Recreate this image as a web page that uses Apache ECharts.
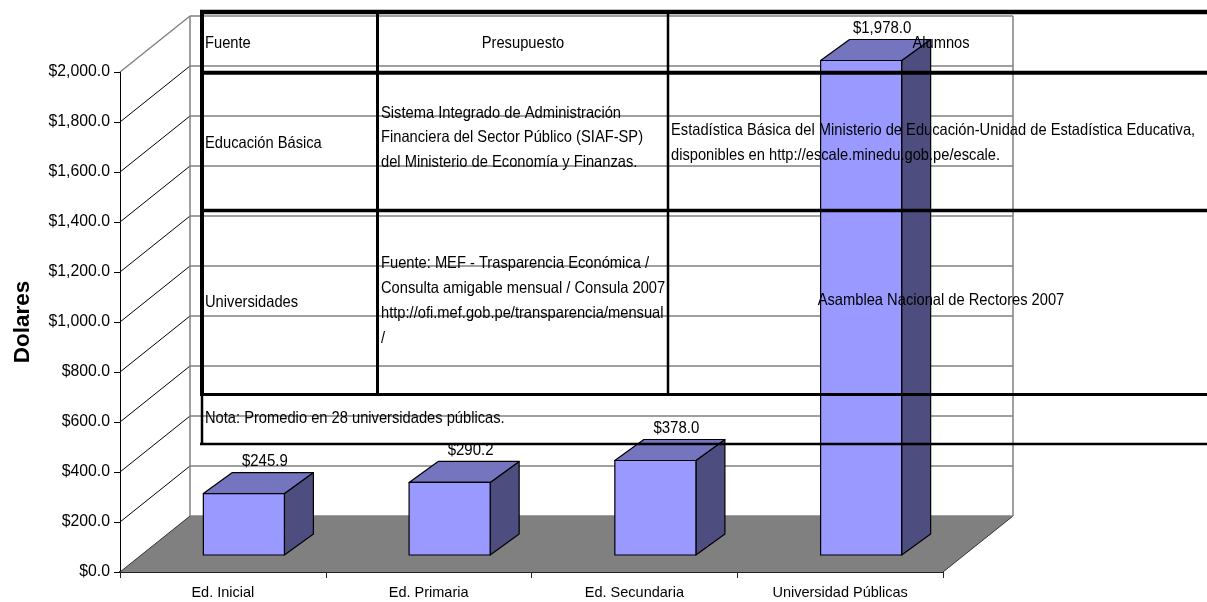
<!DOCTYPE html>
<html>
<head>
<meta charset="utf-8">
<script src="https://cdn.jsdelivr.net/npm/echarts@6/dist/echarts.min.js"></script>
<style>
html,body{margin:0;padding:0;background:#fff;}
#chart{width:1207px;height:602px;}
</style>
</head>
<body>
<div id="chart"></div>
<script>
// ---- data ----
const categories = ['Ed. Inicial', 'Ed. Primaria', 'Ed. Secundaria', 'Universidad Públicas'];
const values = [245.9, 290.2, 378.0, 1978.0];
const yTicks = [0, 200, 400, 600, 800, 1000, 1200, 1400, 1600, 1800, 2000];
const yAxisTitle = 'Dolares';

// table texts
const tableHeader = ['Fuente', 'Presupuesto', 'Alumnos'];
const rowBasica = ['Educación Básica',
  ['Sistema Integrado de Administración', 'Financiera del Sector Público (SIAF-SP)', 'del Ministerio de Economía y Finanzas.'],
  ['Estadística Básica del Ministerio de Educación-Unidad de Estadística Educativa,', 'disponibles en http://escale.minedu.gob.pe/escale.']];
const rowUniv = ['Universidades',
  ['Fuente: MEF - Trasparencia Económica /', 'Consulta amigable mensual / Consula 2007', 'http://ofi.mef.gob.pe/transparencia/mensual', '/'],
  'Asamblea Nacional de Rectores 2007'];
const nota = 'Nota: Promedio en 28 universidades públicas.';

function money(v) {
  const s = Number(v).toFixed(1);
  const parts = s.split('.');
  return '$' + parts[0].replace(/\B(?=(\d{3})+(?!\d))/g, ',') + '.' + parts[1];
}

const FONT = 'Liberation Sans, Arial, sans-serif';
const DX = 70, DY = -56;           // depth of the 3D box
const FX = 21, FY = -17;           // bar front face position in depth
const BDX = 29, BDY = -21;         // bar depth
const BAR_RATIO = 0.394;

const chart = echarts.init(document.getElementById('chart'));

function renderWall(params, api) {
  const cs = params.coordSys;
  const v = api.value(0);
  const p = api.coord([0, v]);
  const y = p[1];
  const x0 = cs.x, x1 = cs.x + cs.width;
  const children = [];
  if (v === 0) {
    children.push({
      type: 'polygon',
      shape: { points: [[x0, y], [x1, y], [x1 + DX, y + DY], [x0 + DX, y + DY]] },
      style: { fill: '#808080', stroke: null }
    });
    children.push({ type: 'line', shape: { x1: x1, y1: y, x2: x1 + DX, y2: y + DY }, style: { stroke: '#333', lineWidth: 1 } });
  }
  children.push({
    type: 'line',
    shape: { x1: x0 + DX, y1: y + DY, x2: x1 + DX, y2: y + DY },
    style: { stroke: '#808080', lineWidth: 1.5 }
  });
  children.push({
    type: 'line',
    shape: { x1: x0, y1: y, x2: x0 + DX, y2: y + DY },
    style: { stroke: v === 2000 ? '#808080' : (v === 0 ? '#333' : '#000'), lineWidth: v === 2000 ? 1.5 : 1 }
  });
  if (v === 2000) {
    const yb = api.coord([0, 0])[1];
    children.push({ type: 'line', shape: { x1: x0 + DX, y1: y + DY, x2: x0 + DX, y2: yb + DY }, style: { stroke: '#808080', lineWidth: 1.5 } });
    children.push({ type: 'line', shape: { x1: x1 + DX, y1: y + DY, x2: x1 + DX, y2: yb + DY }, style: { stroke: '#808080', lineWidth: 1.5 } });
  }
  return { type: 'group', children: children };
}

function renderBar(params, api) {
  const i = api.value(0), v = api.value(1);
  const base = api.coord([i, 0]);
  const top = api.coord([i, v]);
  const band = api.size([1, 0])[0];
  const w = band * BAR_RATIO;
  const cx = base[0] + FX;
  const xa = cx - w / 2, xb = cx + w / 2;
  const yb = base[1] + FY, yt = top[1] + FY;
  const stroke = { stroke: '#000', lineWidth: 1.2, lineJoin: 'round' };
  return {
    type: 'group',
    children: [
      { type: 'polygon', shape: { points: [[xb, yb], [xb + BDX, yb + BDY], [xb + BDX, yt + BDY], [xb, yt]] }, style: Object.assign({ fill: '#4D4D80' }, stroke) },
      { type: 'polygon', shape: { points: [[xa, yt], [xb, yt], [xb + BDX, yt + BDY], [xa + BDX, yt + BDY]] }, style: Object.assign({ fill: '#7575BF' }, stroke) },
      { type: 'polygon', shape: { points: [[xa, yb], [xb, yb], [xb, yt], [xa, yt]] }, style: Object.assign({ fill: '#9999FF' }, stroke) },
      { type: 'text', x: cx + 21, y: yt - 32, scaleY: 1.12, style: { text: money(v), x: 0, y: 0, align: 'center', verticalAlign: 'middle', fill: '#000', font: '15px ' + FONT } }
    ]
  };
}

// table graphic
const g = [];
function hl(y, xa, xb, lw) { g.push({ type: 'line', shape: { x1: xa, y1: y, x2: xb, y2: y }, style: { stroke: '#000', lineWidth: lw }, z: 100 }); }
function vl(x, ya, yb, lw) { g.push({ type: 'line', shape: { x1: x, y1: ya, x2: x, y2: yb }, style: { stroke: '#000', lineWidth: lw }, z: 100 }); }
function tx(t, x, y, align) { g.push({ type: 'text', x: x, y: y, scaleY: 1.15, style: { text: t, x: 0, y: 0, align: align || 'left', verticalAlign: 'middle', fill: '#000', font: '14.7px ' + FONT }, z: 101 }); }

hl(12, 200, 1207, 4.5);
hl(72.7, 200, 1207, 4);
hl(210.5, 200, 1207, 3.5);
hl(394.5, 200, 1207, 3);
hl(444, 200, 1207, 2.5);
vl(202, 10, 396, 4);
vl(202, 394, 445, 2.5);
vl(377.5, 10, 396, 3);
vl(668, 10, 396, 2.5);

tx(tableHeader[0], 205, 43);
tx(tableHeader[1], 523, 43, 'center');
tx(tableHeader[2], 941, 43, 'center');
tx(rowBasica[0], 205, 143);
rowBasica[1].forEach((t, k) => tx(t, 381, 113 + k * 24.5));
rowBasica[2].forEach((t, k) => tx(t, 671, 130 + k * 25));
tx(rowUniv[0], 205, 302);
rowUniv[1].forEach((t, k) => tx(t, 381, 263 + k * 25));
tx(rowUniv[2], 941, 300, 'center');
tx(nota, 205, 418);

const option = {
  animation: false,
  backgroundColor: '#fff',
  grid: { left: 120, top: 72, width: 823, height: 500, containLabel: false },
  xAxis: {
    type: 'category',
    data: categories,
    boundaryGap: true,
    axisLine: { lineStyle: { color: '#222', width: 2 } },
    axisTick: { show: true, length: 6, alignWithLabel: false, lineStyle: { color: '#222' } },
    axisLabel: { color: '#000', fontSize: 14.5, fontFamily: FONT, margin: 13 },
    splitLine: { show: false }
  },
  yAxis: {
    type: 'value',
    min: 0, max: 2000, interval: 200,
    name: yAxisTitle,
    nameLocation: 'middle',
    nameGap: 86,
    nameTextStyle: { fontSize: 22.5, fontWeight: 'bold', color: '#000', fontFamily: FONT },
    axisLine: { show: true, lineStyle: { color: '#000', width: 1 } },
    axisTick: { show: true, length: 6, lineStyle: { color: '#000' } },
    axisLabel: { color: '#000', fontSize: 15.8, fontFamily: FONT, margin: 10, formatter: money },
    splitLine: { show: false }
  },
  series: [
    {
      type: 'custom',
      renderItem: renderWall,
      data: yTicks.map(v => [v]),
      encode: { y: 0 },
      z: 1,
      silent: true
    },
    {
      type: 'custom',
      renderItem: renderBar,
      data: values.map((v, i) => [i, v]),
      encode: { x: 0, y: 1 },
      z: 3
    }
  ],
  graphic: { elements: g }
};
chart.setOption(option);
</script>
</body>
</html>
